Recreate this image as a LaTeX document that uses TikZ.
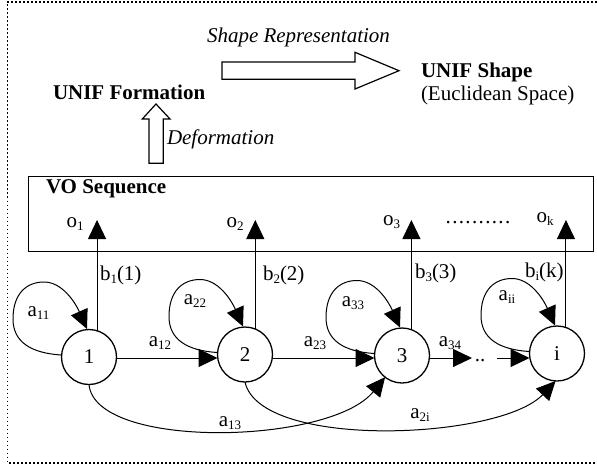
\documentclass[tikz,border=0pt]{standalone}
\usepackage{fontspec}
\setmainfont{Liberation Serif}
\usetikzlibrary{arrows.meta}
\newcommand\sbs[1]{\raisebox{-3pt}{\fontsize{13}{13}\selectfont #1}}
\newcommand\dotcell{\makebox[6.6pt]{.}}
\begin{document}
\begin{tikzpicture}[x=1pt,y=-1pt,
  every node/.style={font=\fontsize{21}{25}\selectfont, inner sep=0pt, outer sep=0pt},
  state/.style={circle, draw, line width=1.3pt, minimum size=55pt},
  arr/.style={line width=1pt, -{Triangle[length=19pt,width=18pt]}},
  plain/.style={line width=1pt},
  lbl/.style={anchor=base},
  txt/.style={anchor=base west},
  blockarrow/.style={draw, line width=1.2pt, line join=miter},
  frame/.style={line width=1.6pt, dash pattern=on 1.6pt off 2.4pt}
]
\useasboundingbox (0,0) rectangle (597,466);
% outer dotted frame
\draw[frame] (597,2) -- (7.5,2) -- (7.5,462.7) -- (597,462.7);

% top texts
\node[txt] (shaperep) at (207,42.7) {\itshape Shape Representation};
\node[txt] (unifshape) at (421,77) {\bfseries UNIF Shape};
\node[txt] (eucl) at (421,100.5) {(Euclidean Space)};
\node[txt] (uniform) at (53,99) {\bfseries UNIF Formation};
\node[txt] (deform) at (167,144) {\itshape Deformation};

% block arrows
\draw[blockarrow] (222,62) -- (355,62) -- (355,52.3) -- (399,70.7) -- (355,89) -- (355,79.3) -- (222,79.3) -- cycle;
\draw[blockarrow] (149,163.3) -- (149,119) -- (142.3,119) -- (156,104) -- (170,119) -- (163.3,119) -- (163.3,163.3) -- cycle;

% VO sequence box
\node[draw, line width=1pt, minimum width=565pt, minimum height=75.7pt, anchor=north west] (vo) at (28,176) {};
\node[txt] (votitle) at (46,193) {\bfseries VO Sequence};

% observation labels
\node[lbl] (o1) at (75,227) {o\sbs{1}};
\node[lbl] (o2) at (235,227) {o\sbs{2}};
\node[lbl] (o3) at (391.5,225) {o\sbs{3}};
\node[lbl] (ok) at (545,222) {o\sbs{k}};
\node[lbl] (dots) at (478,223) {\dotcell\dotcell\dotcell\dotcell\dotcell\dotcell\dotcell\dotcell\dotcell\dotcell};

% states
\node[state] (n1) at (89,357) {1};
\node[state] (n2) at (245,354.5) {2};
\node[state] (n3) at (402,355.5) {3};
\node[state] (ni) at (557,353.5) {i};

% emission arrows
\coordinate (top) at (0,220);
\draw[arr] (n1.73) -- (n1.73 |- top);
\draw[arr] (n2.68) -- (n2.68 |- top);
\draw[arr] (n3.70) -- (n3.70 |- top);
\draw[arr] (ni.71) -- (ni.71 |- top);
\node[txt] (b1) at (100,280.7) {b\sbs{1}(1)};
\node[txt] (b2) at (263,280) {b\sbs{2}(2)};
\node[txt] (b3) at (415,278) {b\sbs{3}(3)};
\node[txt] (bi) at (525,277) {b\sbs{i}(k)};

% self loops
\foreach \n in {n1,n2,n3,ni}{
  \draw[arr] ([shift={(-28,-2)}]\n.center)
    .. controls ([shift={(-58,-4)}]\n.center) and ([shift={(-76,-15)}]\n.center)
    .. ([shift={(-76,-38)}]\n.center)
    .. controls ([shift={(-76,-64)}]\n.center) and ([shift={(-62,-75)}]\n.center)
    .. ([shift={(-45,-75)}]\n.center)
    .. controls ([shift={(-27,-75)}]\n.center) and ([shift={(-14,-55)}]\n.center)
    .. ([shift={(-2,-28)}]\n.center);
}
\node[lbl] (a11) at (38.5,316) {a\sbs{11}};
\node[lbl] (a22) at (195,304) {a\sbs{22}};
\node[lbl] (a33) at (353,306.7) {a\sbs{33}};
\node[lbl] (aii) at (507,300) {a\sbs{ii}};

% horizontal transitions
\coordinate (hy) at (0,358);
\coordinate (c34) at (472,358);
\coordinate (c4i) at (497,358);
\draw[arr] (n1.east |- hy) -- (n2.west |- hy);
\draw[arr] (n2.east |- hy) -- (n3.west |- hy);
\draw[arr] (n3.east |- hy) -- (c34);
\node[lbl] (hdots) at (480,361) {..};
\draw[arr] (c4i) -- (ni.west |- hy);
\node[lbl] (a12) at (160,346.7) {a\sbs{12}};
\node[lbl] (a23) at (315,346) {a\sbs{23}};
\node[lbl] (a34) at (450,346) {a\sbs{34}};

% long transitions
\draw[arr] (n1.south) .. controls (95,450) and (330,445) .. (n3.-128);
\draw[arr] (n2.south) .. controls (260,450) and (500,440) .. (ni.-93);
\node[lbl] (a13) at (230,426) {a\sbs{13}};
\node[lbl] (a2i) at (420,418) {a\sbs{2i}};
\end{tikzpicture}
\end{document}
